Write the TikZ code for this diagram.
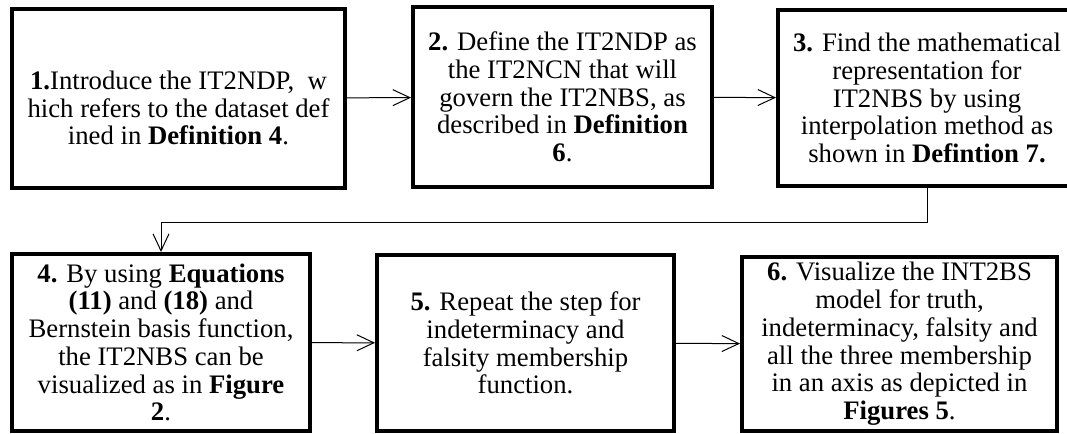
\documentclass[tikz,border=0pt]{standalone}
\usepackage{fontspec}
\setmainfont{Liberation Serif}
\usetikzlibrary{arrows.meta}

\begin{document}
\begin{tikzpicture}[stepbox/.style={draw,line width=.08cm,align=center,inner sep=0pt,font=\fontsize{15.2}{15.8}\selectfont},flow/.style={-{Straight Barb[length=.34cm,width=.32cm]},line width=.02cm}]
	\useasboundingbox (0,0) rectangle (21.34,8.66);
	\node[stepbox,minimum width=6.66cm,minimum height=3.58cm] (s1) at (3.57,6.69) {\rule{0pt}{.75cm}\textbf{1.}Introduce the IT2NDP,\ \ w\\hich refers to the dataset def\\ined in \textbf{Definition 4}.};
	\node[stepbox,minimum width=5.98cm,minimum height=3.6cm] (s2) at (11.25,6.72) {\textbf{2.} Define the IT2NDP as\\the IT2NCN that will\\govern the IT2NBS, as\\described in \textbf{Definition}\\\textbf{6}.};
	\node[stepbox,minimum width=5.96cm,minimum height=3.52cm] (s3) at (18.54,6.7) {\textbf{3.} Find the mathematical\\representation for\\IT2NBS by using\\interpolation method as\\shown in \textbf{Defintion 7.}};
	\node[stepbox,minimum width=5.96cm,minimum height=3.54cm] (s4) at (3.22,1.81) {\textbf{4.} By using \textbf{Equations}\\\textbf{(11)} and \textbf{(18)} and\\Bernstein basis function,\\the IT2NBS can be\\visualized as in \textbf{Figure}\\\textbf{2}.};
	\node[stepbox,minimum width=5.94cm,minimum height=3.52cm] (s5) at (10.51,1.8) {\textbf{5.} Repeat the step for\\indeterminacy and\\falsity membership\\function.};
	\node[stepbox,minimum width=6.3cm,minimum height=3.48cm] (s6) at (17.99,1.78) {\textbf{6.} Visualize the INT2BS\\model for truth,\\indeterminacy, falsity and\\all the three membership\\in an axis as depicted in\\\textbf{Figures 5}.};
	\draw[flow] (s1) -- (s2);
	\draw[flow] (s2) -- (s3);
	\draw[flow] (s3.south) -- ++(0,-.7) -| (s4.north);
	\draw[flow] (s4) -- (s5);
	\draw[flow] (s5) -- (s6);
\end{tikzpicture}
\end{document}
